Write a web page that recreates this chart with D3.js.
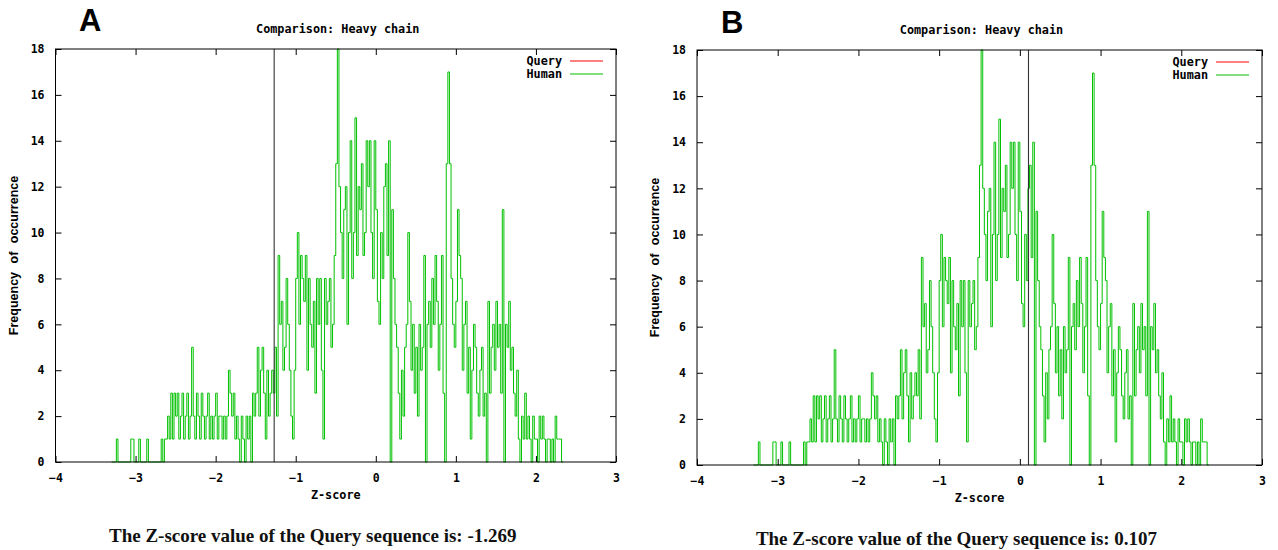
<!DOCTYPE html>
<html>
<head>
<meta charset="utf-8">
<script src="https://cdn.jsdelivr.net/npm/d3@7"></script>
<style>
  body { margin: 0; background: #fff; }
  svg { display: block; }
  .mono { font-family: "DejaVu Sans Mono", monospace; font-weight: bold; font-size: 11.8px; fill: #000; }
</style>
</head>
<body>
<svg id="chart" width="1278" height="550"></svg>
<script>
// histogram of Z-scores for human heavy chains, bins of 0.02 starting at -3.30
var binStart = -3.30;
var binWidth = 0.02;
var humanCounts = [
  0,0,0,1,0,  0,0,0,0,0,          // -3.3
  0,0,1,1,0,  0,0,1,0,0,          // -3.1
  0,0,1,0,0,  0,0,0,0,0,          // -2.9
  0,1,0,1,1,  2,1,3,1,3,          // -2.7
  2,3,1,2,3,  1,2,3,1,2,          // -2.5
  5,2,1,3,2,  1,3,2,1,2,          // -2.3
  3,1,2,1,2,  3,1,2,2,1,          // -2.1
  2,1,2,4,3,  2,3,1,2,1,          // -1.9
  0,2,1,0,2,  1,2,0,3,2,          // -1.7
  3,5,2,4,5,  3,1,4,2,3,          // -1.5
  4,3,5,2,9,  6,7,4,5,8,          // -1.3
  6,4,2,1,4,  8,10,6,9,8,         // -1.1
  7,9,4,8,6,  5,7,3,8,6,          // -0.9
  8,4,1,8,6,  7,8,5,6,9,          // -0.7
  13,18,12,10,8,  11,12,6,10,14,  // -0.5
  8,10,15,9,12,  11,13,9,10,14,   // -0.3
  12,14,10,8,14,  11,7,6,10,8,    // -0.1
  12,13,9,14,0,  11,8,6,5,3,      // 0.1
  1,4,2,5,6,  10,7,4,6,3,         // 0.3
  5,2,6,4,5,  9,0,6,7,5,          // 0.5
  8,6,9,7,4,  6,9,3,0,13,         // 0.7
  17,13,8,6,5,  7,11,9,8,4,       // 0.9
  6,7,3,5,1,  4,6,5,3,2,          // 1.1
  4,5,2,3,0,  7,3,5,6,4,          // 1.3
  7,5,6,3,11,  0,6,5,7,4,         // 1.5
  5,3,2,4,1,  0,2,1,3,1,          // 1.7
  2,1,0,2,1,  1,0,2,1,2,          // 1.9
  1,0,1,1,0,  1,0,2,1,1,          // 2.1
  1,0                             // 2.3
];

var panelLetters = ["A", "B"];
var queryScores = [-1.269, 0.107];
var xTicks = [-4, -3, -2, -1, 0, 1, 2, 3];
var yTicks = [0, 2, 4, 6, 8, 10, 12, 14, 16, 18];
var legendNames = ["Query", "Human"];
var legendColors = ["#ff0000", "#00c000"];

var panels = [
  {left: 55.5, right: 616, top: 49, bottom: 462, letterX: 79, letterY: 31, capY: 542},
  {left: 697, right: 1262, top: 50, bottom: 465, letterX: 721, letterY: 33, capY: 545}
];

var bins = humanCounts.map(function (c, i) {
  return {x: binStart + i * binWidth, y: c};
});
bins.push({x: binStart + humanCounts.length * binWidth, y: 0});

var svg = d3.select("#chart");
svg.append("rect").attr("width", 1278).attr("height", 550).attr("fill", "#fff");

panels.forEach(function (p, k) {
  var x = d3.scaleLinear().domain([-4, 3]).range([p.left, p.right]);
  var y = d3.scaleLinear().domain([0, 18]).range([p.bottom, p.top]);
  var cx = (p.left + p.right) / 2;
  var g = svg.append("g");

  // panel letter
  g.append("text")
    .attr("x", p.letterX).attr("y", p.letterY)
    .style("font-family", "Liberation Sans, Arial, sans-serif")
    .style("font-weight", "bold").style("font-size", "31px")
    .text(panelLetters[k]);

  // title
  g.append("text").attr("class", "mono")
    .attr("x", cx + 2).attr("y", p.top - 16)
    .attr("text-anchor", "middle")
    .text("Comparison: Heavy chain");

  // histogram
  var line = d3.line()
    .x(function (d) { return x(d.x); })
    .y(function (d) { return y(d.y); })
    .curve(d3.curveStepAfter);
  g.append("path")
    .datum(bins)
    .attr("d", line)
    .attr("fill", "none")
    .attr("stroke", "#00c000")
    .attr("stroke-width", 1);

  // query line
  g.append("line")
    .attr("x1", x(queryScores[k])).attr("x2", x(queryScores[k]))
    .attr("y1", p.top).attr("y2", p.bottom)
    .attr("stroke", "#333").attr("stroke-width", 1.1);

  // axes: labelled left and bottom, mirrored ticks right and top
  var axL = g.append("g").attr("transform", "translate(" + p.left + ",0)")
    .call(d3.axisLeft(y).tickValues(yTicks).tickSize(-6).tickPadding(11).tickFormat(d3.format("d")));
  var axR = g.append("g").attr("transform", "translate(" + p.right + ",0)")
    .call(d3.axisRight(y).tickValues(yTicks).tickSize(-6).tickFormat(""));
  var axB = g.append("g").attr("transform", "translate(0," + p.bottom + ")")
    .call(d3.axisBottom(x).tickValues(xTicks).tickSize(-6).tickPadding(12).tickFormat(d3.format("d")));
  var axT = g.append("g").attr("transform", "translate(0," + p.top + ")")
    .call(d3.axisTop(x).tickValues(xTicks).tickSize(-6).tickFormat(""));
  [axL, axR, axB, axT].forEach(function (a) {
    a.select(".domain").remove();
    a.selectAll(".tick line").attr("stroke", "#000");
    a.selectAll("text").attr("class", "mono").attr("fill", "#000")
      .style("font-family", "DejaVu Sans Mono, monospace")
      .style("font-weight", "bold").style("font-size", "11.5px");
  });
  axB.selectAll("text").text(function (d) { return d < 0 ? "\u2212" + Math.abs(d) : d; });

  // border
  g.append("rect")
    .attr("x", p.left).attr("y", p.top)
    .attr("width", p.right - p.left).attr("height", p.bottom - p.top)
    .attr("fill", "none").attr("stroke", "#000").attr("stroke-width", 1);

  // legend
  legendNames.forEach(function (name, j) {
    var ly = p.top + 12 + j * 13;
    g.append("text").attr("class", "mono")
      .attr("x", p.right - 54).attr("y", ly + 4)
      .attr("text-anchor", "end").text(name);
    g.append("line")
      .attr("x1", p.right - 46).attr("x2", p.right - 13)
      .attr("y1", ly).attr("y2", ly)
      .attr("stroke", legendColors[j]).attr("stroke-width", 1);
  });

  // axis titles
  g.append("text").attr("class", "mono")
    .attr("x", cx).attr("y", p.bottom + 37)
    .attr("text-anchor", "middle").text("Z-score");
  g.append("text")
    .attr("transform", "translate(" + (p.left - 38) + "," + ((p.top + p.bottom) / 2) + ") rotate(-90)")
    .attr("text-anchor", "middle")
    .style("font-family", "Liberation Sans, Arial, sans-serif")
    .style("font-weight", "bold").style("font-size", "12.5px")
    .style("word-spacing", "5px")
    .text("Frequency of occurrence");

  // caption
  g.append("text")
    .attr("x", cx - 23).attr("y", p.capY)
    .attr("text-anchor", "middle")
    .style("font-family", "Liberation Serif, Times New Roman, serif")
    .style("font-weight", "bold").style("font-size", "19px")
    .attr("fill", "#111")
    .text("The Z-score value of the Query sequence is: " + queryScores[k]);
});
</script>
</body>
</html>
